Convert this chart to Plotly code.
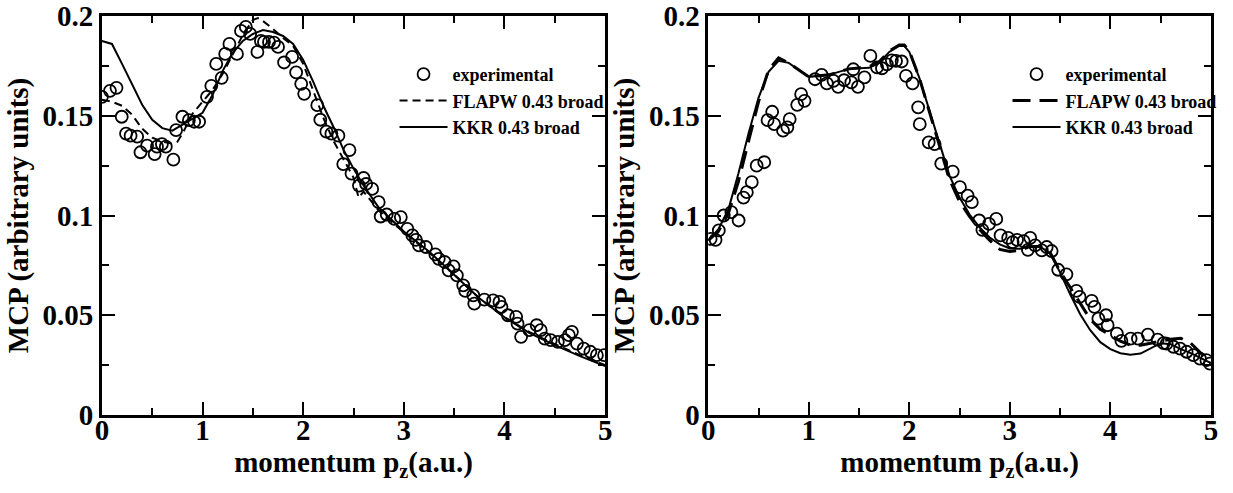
import plotly.graph_objects as go
from plotly.subplots import make_subplots

# ---------------- data: left panel ----------------
left_exp_x = [0.00, 0.08, 0.145, 0.197, 0.24, 0.285, 0.35, 0.383, 0.449, 0.524, 0.547, 0.596, 0.635, 0.71,
              0.737, 0.80, 0.864, 0.917, 0.966, 1.044, 1.087, 1.136, 1.19, 1.225, 1.267, 1.342, 1.382, 1.43,
              1.473, 1.545, 1.58, 1.61, 1.66, 1.71, 1.75, 1.81, 1.89, 1.93, 1.98, 2.01, 2.14, 2.17, 2.23,
              2.28, 2.35, 2.398, 2.46, 2.48, 2.554, 2.60, 2.625, 2.685, 2.75, 2.77, 2.83, 2.905, 2.97,
              3.035, 3.085, 3.12, 3.15, 3.22, 3.313, 3.347, 3.405, 3.445, 3.494, 3.527, 3.59, 3.61, 3.69,
              3.70, 3.80, 3.887, 3.95, 3.97, 4.034, 4.116, 4.13, 4.165, 4.247, 4.32, 4.36, 4.40, 4.46,
              4.53, 4.60, 4.64, 4.67, 4.72, 4.787, 4.853, 4.918, 4.99]
left_exp_y = [0.1595, 0.1625, 0.164, 0.1495, 0.141, 0.140, 0.1395, 0.1317, 0.135, 0.1308, 0.1345, 0.1358,
              0.1345, 0.128, 0.1428, 0.1495, 0.1478, 0.147, 0.147, 0.1595, 0.165, 0.176, 0.169, 0.181,
              0.186, 0.181, 0.1925, 0.1945, 0.191, 0.182, 0.1875, 0.187, 0.187, 0.1867, 0.1845, 0.1767,
              0.1795, 0.1717, 0.166, 0.161, 0.1553, 0.148, 0.142, 0.141, 0.140, 0.1258, 0.1328, 0.121,
              0.115, 0.1188, 0.1158, 0.1133, 0.1067, 0.0995, 0.1005, 0.0983, 0.0992, 0.0933, 0.090,
              0.0878, 0.085, 0.0842, 0.0805, 0.0783, 0.0767, 0.0725, 0.0745, 0.070, 0.065, 0.0622, 0.060,
              0.0558, 0.0578, 0.0575, 0.0567, 0.0542, 0.050, 0.0492, 0.0458, 0.0392, 0.0425, 0.045,
              0.0425, 0.0383, 0.0375, 0.0367, 0.0375, 0.040, 0.0417, 0.0358, 0.0333, 0.0317, 0.030, 0.030]

left_kkr_x = [0, 0.1, 0.2, 0.3, 0.4, 0.5, 0.6, 0.7, 0.8, 0.9, 1.0, 1.1, 1.2, 1.3, 1.4, 1.5, 1.6, 1.7,
              1.8, 1.9, 2.0, 2.1, 2.2, 2.3, 2.4, 2.5, 2.6, 2.75, 3.0, 3.25, 3.5, 3.75, 4.0, 4.25, 4.5,
              4.75, 5.0]
left_kkr_y = [0.1875, 0.186, 0.176, 0.1655, 0.1555, 0.148, 0.1438, 0.1425, 0.1455, 0.1485, 0.1515,
              0.1605, 0.1725, 0.1815, 0.1875, 0.191, 0.193, 0.192, 0.190, 0.186, 0.178, 0.167, 0.155,
              0.1445, 0.133, 0.1235, 0.115, 0.104, 0.092, 0.082, 0.0705, 0.0585, 0.049, 0.041, 0.035,
              0.0295, 0.0245]

left_flapw_x = [0, 0.1, 0.2, 0.3, 0.4, 0.5, 0.6, 0.7, 0.75, 0.8, 0.9, 1.0, 1.1, 1.2, 1.3, 1.4, 1.5,
                1.55, 1.6, 1.7, 1.8, 1.9, 2.0, 2.1, 2.2, 2.3, 2.4, 2.5, 2.55, 2.6, 2.75, 3.0, 3.25, 3.5,
                3.75, 4.0, 4.25, 4.5, 4.75, 5.0]
left_flapw_y = [0.158, 0.157, 0.155, 0.1505, 0.1435, 0.139, 0.137, 0.136, 0.137, 0.141, 0.151, 0.157,
                0.163, 0.171, 0.181, 0.1905, 0.198, 0.199, 0.1975, 0.1935, 0.189, 0.185, 0.176, 0.1625,
                0.149, 0.1375, 0.1285, 0.119, 0.109, 0.112, 0.1025, 0.0915, 0.0815, 0.0705, 0.0585,
                0.049, 0.0415, 0.0355, 0.030, 0.025]

# ---------------- data: right panel ----------------
right_exp_x = [0.024, 0.073, 0.105, 0.154, 0.23, 0.302, 0.351, 0.384, 0.433, 0.482, 0.557, 0.59, 0.636,
               0.656, 0.744, 0.787, 0.81, 0.885, 0.924, 0.958, 1.062, 1.128, 1.18, 1.246, 1.292, 1.351,
               1.423, 1.443, 1.489, 1.554, 1.613, 1.679, 1.728, 1.777, 1.826, 1.868, 1.924, 1.967, 2.032,
               2.088, 2.104, 2.193, 2.252, 2.318, 2.432, 2.504, 2.58, 2.622, 2.695, 2.727, 2.793, 2.865,
               2.908, 2.983, 3.028, 3.072, 3.137, 3.18, 3.203, 3.252, 3.318, 3.367, 3.416, 3.481, 3.563,
               3.662, 3.694, 3.815, 3.842, 3.881, 3.957, 3.973, 4.065, 4.11, 4.202, 4.274, 4.373, 4.471,
               4.53, 4.56, 4.628, 4.694, 4.759, 4.825, 4.891, 4.956, 4.99]
right_exp_y = [0.0883, 0.0878, 0.0925, 0.100, 0.1017, 0.0975, 0.109, 0.1117, 0.1167, 0.125, 0.1267,
               0.1478, 0.152, 0.1458, 0.1425, 0.1442, 0.1483, 0.1555, 0.1608, 0.1575, 0.1683, 0.1705,
               0.1662, 0.1675, 0.1645, 0.1678, 0.1667, 0.1733, 0.1645, 0.1692, 0.180, 0.1742, 0.1738,
               0.1758, 0.1778, 0.1775, 0.1772, 0.170, 0.1662, 0.1542, 0.1458, 0.1367, 0.1358, 0.126,
               0.122, 0.1142, 0.110, 0.1067, 0.0975, 0.0928, 0.0958, 0.0983, 0.090, 0.0888, 0.0867,
               0.0878, 0.0872, 0.0828, 0.0888, 0.085, 0.0825, 0.0842, 0.0822, 0.0728, 0.0705, 0.0622,
               0.0592, 0.0572, 0.0542, 0.0483, 0.050, 0.045, 0.0408, 0.0372, 0.0383, 0.0383, 0.0403,
               0.0378, 0.036, 0.0358, 0.0342, 0.0333, 0.0317, 0.030, 0.0283, 0.0275, 0.0258]

right_kkr_x = [0, 0.1, 0.2, 0.3, 0.4, 0.5, 0.6, 0.7, 0.8, 0.9, 1.0, 1.2, 1.4, 1.6, 1.7, 1.8, 1.9, 1.95,
               2.0, 2.1, 2.2, 2.3, 2.4, 2.5, 2.6, 2.7, 2.8, 2.9, 3.0, 3.1, 3.2, 3.3, 3.4, 3.5, 3.6, 3.7,
               3.8, 3.9, 4.0, 4.1, 4.2, 4.3, 4.4, 4.5, 4.6, 4.7, 4.8, 4.9, 5.0]
right_kkr_y = [0.0875, 0.093, 0.103, 0.121, 0.141, 0.159, 0.172, 0.1775, 0.1765, 0.173, 0.1695, 0.1705,
               0.1735, 0.174, 0.1765, 0.182, 0.185, 0.185, 0.182, 0.169, 0.1525, 0.136, 0.12, 0.109,
               0.1005, 0.094, 0.089, 0.0855, 0.0835, 0.0833, 0.0845, 0.0845, 0.081, 0.0715, 0.0605,
               0.0505, 0.0425, 0.0365, 0.033, 0.031, 0.0302, 0.0308, 0.0335, 0.036, 0.0355, 0.033,
               0.031, 0.0285, 0.026]

right_flapw_x = right_kkr_x
right_flapw_y = [0.0875, 0.092, 0.101, 0.117, 0.137, 0.157, 0.173, 0.179, 0.1765, 0.173, 0.1695,
                 0.1705, 0.1735, 0.1745, 0.177, 0.1825, 0.1855, 0.1855, 0.1825, 0.169, 0.152, 0.135,
                 0.118, 0.107, 0.0995, 0.093, 0.0875, 0.083, 0.082, 0.0825, 0.0845, 0.0845, 0.0815,
                 0.072, 0.064, 0.056, 0.048, 0.043, 0.040, 0.037, 0.035, 0.035, 0.036, 0.037, 0.038,
                 0.0385, 0.036, 0.031, 0.026]

# ---------------- tick labels ----------------
x_tickvals = [0, 1, 2, 3, 4, 5]
x_ticktext = ["0", "1", "2", "3", "4", "5"]
y_tickvals = [0, 0.05, 0.1, 0.15, 0.2]
y_ticktext = ["0", "0.05", "0.1", "0.15", "0.2"]

FONT = "Liberation Serif"

fig = make_subplots(rows=1, cols=2)

def add_panel(col, ex, ey, fx, fy, kx, ky, legend, dash_style, dash_width):
    fig.add_trace(go.Scatter(x=ex, y=ey, mode="markers", name="experimental",
                             marker=dict(symbol="circle-open", size=12, color="black",
                                         line=dict(width=1.8, color="black")),
                             legend=legend), row=1, col=col)
    fig.add_trace(go.Scatter(x=fx, y=fy, mode="lines", name="FLAPW 0.43 broad",
                             line=dict(color="black", width=dash_width, dash=dash_style),
                             legend=legend), row=1, col=col)
    fig.add_trace(go.Scatter(x=kx, y=ky, mode="lines", name="KKR 0.43 broad",
                             line=dict(color="black", width=2),
                             legend=legend), row=1, col=col)

add_panel(1, left_exp_x, left_exp_y, left_flapw_x, left_flapw_y, left_kkr_x, left_kkr_y,
          "legend", "8px,5px", 2)
add_panel(2, right_exp_x, right_exp_y, right_flapw_x, right_flapw_y, right_kkr_x, right_kkr_y,
          "legend2", "18px,9px", 3)

W, H = 1233, 493
TICKFONT = dict(family=FONT, size=29, color="black", weight="bold")
TITLEFONT = dict(family=FONT, size=29, color="black", weight="bold")

xdoms = [[96 / W, 605 / W], [709.3 / W, 1217.7 / W]]
for i, ax in enumerate(["xaxis", "xaxis2"]):
    fig.layout[ax].update(
        showline=True, linewidth=2.5, linecolor="black", mirror="allticks",
        ticks="inside", ticklen=13, tickwidth=2, tickcolor="black",
        showgrid=False, zeroline=False, tickfont=TICKFONT,
        range=[0, 5], tickmode="array", tickvals=x_tickvals, ticktext=x_ticktext,
        domain=xdoms[i], ticklabelstandoff=-13, ticklabeloverflow="allow",
        minor=dict(ticks="inside", ticklen=7, tickwidth=1.5, dtick=0.5, tick0=0,
                   tickcolor="black", showgrid=False),
        title=dict(text="momentum p<sub>z</sub>(a.u.)", standoff=4, font=TITLEFONT))
for ax in ["yaxis", "yaxis2"]:
    fig.layout[ax].update(
        showline=True, linewidth=2.5, linecolor="black", mirror="allticks",
        ticks="inside", ticklen=13, tickwidth=2, tickcolor="black",
        showgrid=False, zeroline=False, tickfont=TICKFONT,
        range=[0, 0.2], tickmode="array", tickvals=y_tickvals, ticktext=y_ticktext,
        ticklabeloverflow="allow",
        minor=dict(ticks="inside", ticklen=7, tickwidth=1.5, dtick=0.025, tick0=0,
                   tickcolor="black", showgrid=False),
        title=dict(text="MCP (arbitrary units)", standoff=6, font=TITLEFONT))

leg_common = dict(font=dict(family=FONT, size=18, color="black", weight="bold"),
                  bgcolor="rgba(0,0,0,0)", borderwidth=0, xanchor="left", yanchor="top",
                  tracegroupgap=0, itemwidth=48)
fig.update_layout(
    width=W, height=H,
    margin=dict(l=0, r=0, t=15, b=78),
    paper_bgcolor="white", plot_bgcolor="white",
    showlegend=True,
    legend=dict(leg_common, x=392 / W, y=0.90),
    legend2=dict(leg_common, x=1012 / W, y=0.90),
)

fig.write_html("out.html")
